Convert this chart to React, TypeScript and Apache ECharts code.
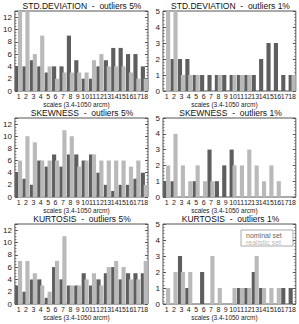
import React, { useEffect, useRef } from "react";
import * as echarts from "echarts";

const categories = ["1","2","3","4","5","6","7","8","9","10","11","12","13","14","15","16","17","18"];

const stdDev5Nominal = [4, 4, 5, 4, 3, 4, 4, 9, 5, 2, 2, 4, 5, 7, 7, 6, 6, 4];
const stdDev5Realistic = [14, 14, 6, 9, 4, 2, 3, 3, 3, 3, 5, 6, 4, 4, 4, 3, 2, 2];
const stdDev1Nominal = [0, 2, 2, 2, 1, 1, 1, 1, 1, 1, 1, 1, 1, 2, 3, 3, 1, 1];
const stdDev1Realistic = [6, 6, 1, 1, 1, 0, 0, 1, 0, 1, 1, 1, 0, 0, 0, 0, 0, 1];
const skew5Nominal = [4, 3, 2, 6, 5, 7, 5, 7, 7, 6, 7, 4, 2, 1, 2, 2, 3, 4];
const skew5Realistic = [6, 10, 9, 6, 6, 6, 11, 10, 5, 6, 7, 6, 6, 6, 6, 5, 6, 2];
const skew1Nominal = [1, 1, 0, 0, 1, 0, 3, 1, 2, 3, 0, 0, 0, 0, 0, 0, 0, 0];
const skew1Realistic = [2, 4, 2, 1, 2, 1, 1, 0, 0, 2, 2, 3, 2, 1, 2, 1, 0, 0];
const kurt5Nominal = [3, 2, 4, 4, 1, 6, 4, 3, 3, 5, 3, 4, 5, 6, 4, 5, 5, 5];
const kurt5Realistic = [7, 7, 5, 3, 2, 7, 11, 3, 3, 4, 5, 3, 6, 7, 6, 4, 4, 7];
const kurt1Nominal = [0, 0, 3, 1, 0, 2, 0, 0, 0, 0, 1, 1, 2, 1, 0, 0, 1, 1];
const kurt1Realistic = [1, 2, 2, 2, 0, 0, 3, 1, 0, 1, 1, 1, 3, 1, 1, 1, 0, 0];

const panelTitles = [
  "STD.DEVIATION  -  outliers 5%",
  "STD.DEVIATION  -  outliers 1%",
  "SKEWNESS  -  outliers 5%",
  "SKEWNESS  -  outliers 1%",
  "KURTOSIS  -  outliers 5%",
  "KURTOSIS  -  outliers 1%",
];
const panelNominal = [stdDev5Nominal, stdDev1Nominal, skew5Nominal, skew1Nominal, kurt5Nominal, kurt1Nominal];
const panelRealistic = [stdDev5Realistic, stdDev1Realistic, skew5Realistic, skew1Realistic, kurt5Realistic, kurt1Realistic];
const panelMax = [13, 5, 13, 5, 13, 5];
const panelInterval = [2, 1, 2, 1, 2, 1];
const xAxisName = "scales (3.4-1050 arcm)";
const legendNames = ["nominal set", "realistic set"];

const DARK = "#5e5e5e";
const LIGHT = "#b9b9b9";
const FONT = "Liberation Sans, Arial, sans-serif";

export default function App() {
  const ref = useRef<HTMLDivElement>(null);
  useEffect(() => {
    document.body.style.margin = "0";
    const chart = echarts.init(ref.current!, undefined, { renderer: "svg" });
    const colLeft = [14, 163];
    const colWidth = [134, 133];
    const rowTop = [11, 118, 224];
    const rowHeight = [80, 79, 80];

    const grids: any[] = [];
    const xAxes: any[] = [];
    const yAxes: any[] = [];
    const series: any[] = [];
    const graphics: any[] = [];

    for (let i = 0; i < 6; i++) {
      const c = i % 2;
      const r = Math.floor(i / 2);
      grids.push({
        left: colLeft[c],
        top: rowTop[r],
        width: colWidth[c],
        height: rowHeight[r],
        show: true,
        borderColor: "#555",
        borderWidth: 1,
        backgroundColor: "#fff",
      });
      xAxes.push({
        type: "category",
        gridIndex: i,
        data: categories,
        boundaryGap: true,
        axisLine: { show: false },
        axisTick: { show: false },
        axisLabel: { interval: 0, fontSize: 7, color: "#222", margin: 2, fontFamily: FONT },
        name: xAxisName,
        nameLocation: "middle",
        nameGap: 9,
        nameTextStyle: { fontSize: 6.5, color: "#222", fontFamily: FONT, padding: [0, 10, 0, 0] },
      });
      const yBase = {
        type: "value",
        gridIndex: i,
        min: 0,
        max: panelMax[i],
        interval: panelInterval[i],
        splitLine: { show: false },
        axisLine: { show: false },
        axisTick: { show: true, inside: true, length: 3, lineStyle: { color: "#555" } },
        minorTick: { show: true, splitNumber: panelInterval[i] === 2 ? 4 : 5, length: 1.5, lineStyle: { color: "#777" } },
      };
      yAxes.push({
        ...yBase,
        position: "left",
        axisLabel: { fontSize: 8, color: "#222", margin: 3, showMaxLabel: panelMax[i] % panelInterval[i] === 0, fontFamily: FONT },
      });
      yAxes.push({
        ...yBase,
        position: "right",
        axisLabel: { show: false },
      });
      series.push({
        type: "bar",
        name: legendNames[0],
        xAxisIndex: i,
        yAxisIndex: 2 * i,
        data: panelNominal[i],
        barWidth: "56%",
        barGap: "-30%",
        itemStyle: { color: DARK },
        clip: true,
      });
      series.push({
        type: "bar",
        name: legendNames[1],
        xAxisIndex: i,
        yAxisIndex: 2 * i,
        data: panelRealistic[i],
        barWidth: "56%",
        barGap: "-30%",
        itemStyle: { color: LIGHT },
        clip: true,
      });
      graphics.push({
        type: "text",
        x: colLeft[c] + colWidth[c] / 2 + 1,
        y: rowTop[r] - 5.5,
        style: {
          text: panelTitles[i],
          align: "center",
          verticalAlign: "middle",
          fill: "#111",
          font: `8.5px ${FONT}`,
        },
      });
    }

    graphics.push({
      type: "rect",
      shape: { x: 241, y: 230, width: 52, height: 16 },
      style: { fill: "#fff", stroke: "#aaa", lineWidth: 1 },
    });
    graphics.push({
      type: "text",
      x: 246,
      y: 235,
      style: { text: legendNames[0], fill: "#666", font: `7px ${FONT}`, verticalAlign: "middle" },
    });
    graphics.push({
      type: "text",
      x: 246,
      y: 242,
      style: { text: legendNames[1], fill: "#bbb", font: `7px ${FONT}`, verticalAlign: "middle" },
    });

    chart.setOption({
      animation: false,
      backgroundColor: "#fff",
      grid: grids,
      xAxis: xAxes,
      yAxis: yAxes,
      series,
      graphic: graphics,
    });
    return () => chart.dispose();
  }, []);
  return <div ref={ref} style={{ width: 299, height: 324 }} />;
}
